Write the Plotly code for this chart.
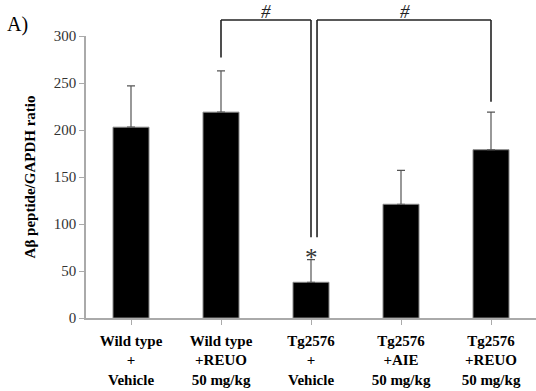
import plotly.graph_objects as go

categories = ["Wild type<br>+<br>Vehicle", "Wild type<br>+REUO<br>50 mg/kg",
              "Tg2576<br>+<br>Vehicle", "Tg2576<br>+AIE<br>50 mg/kg",
              "Tg2576<br>+REUO<br>50 mg/kg"]
values = [203, 219, 38, 121, 179]
errors = [44, 44, 24, 36, 40]
y_ticks = [0, 50, 100, 150, 200, 250, 300]

SERIF = "Liberation Serif, Times New Roman, serif"
N = len(categories)

fig = go.Figure()
fig.add_trace(go.Bar(
    x=list(range(N)), y=values, width=0.4,
    marker=dict(color="black", line=dict(color="#888", width=1)),
    error_y=dict(type="data", array=errors, visible=True, symmetric=False,
                 arrayminus=[0] * N, color="#555", thickness=1.2, width=4),
    hoverinfo="skip",
))

def px(i, d=0.0):
    return (i + 0.5 + d) / N

def py(v):
    return v / 300.0

line = dict(color="#222", width=1.6)
top = 317
shapes = [
    # left bracket
    dict(type="line", xref="paper", yref="paper", x0=px(1), x1=px(1), y0=py(277), y1=py(top), line=line),
    dict(type="line", xref="paper", yref="paper", x0=px(1), x1=px(2), y0=py(top), y1=py(top), line=line),
    dict(type="line", xref="paper", yref="paper", x0=px(2), x1=px(2), y0=py(top), y1=py(86), line=line),
    # right bracket
    dict(type="line", xref="paper", yref="paper", x0=px(2, 0.067), x1=px(2, 0.067), y0=py(86), y1=py(top), line=line),
    dict(type="line", xref="paper", yref="paper", x0=px(2, 0.067), x1=px(4), y0=py(top), y1=py(top), line=line),
    dict(type="line", xref="paper", yref="paper", x0=px(4), x1=px(4), y0=py(top), y1=py(230), line=line),
]

annotations = [
    dict(text="<i>#</i>", xref="paper", yref="paper", x=px(1.5), y=py(339), showarrow=False,
         font=dict(family=SERIF, size=19, color="#222")),
    dict(text="<i>#</i>", xref="paper", yref="paper", x=px(3.12), y=py(339), showarrow=False,
         font=dict(family=SERIF, size=19, color="#222")),
    dict(text="*", xref="paper", yref="paper", x=px(2), y=py(64), showarrow=False,
         yanchor="middle", font=dict(family=SERIF, size=25, color="#333")),
    dict(text="A)", xref="paper", yref="paper", x=-0.18, y=1.04, xanchor="left",
         yanchor="middle", showarrow=False, font=dict(family=SERIF, size=20, color="black")),
]

fig.update_layout(
    width=536, height=391,
    margin=dict(l=86, r=0, t=36, b=73),
    paper_bgcolor="white", plot_bgcolor="white",
    showlegend=False, bargap=0.6,
    shapes=shapes, annotations=annotations,
    xaxis=dict(
        range=[-0.5, N - 0.5], tickmode="array", tickvals=list(range(N)),
        ticktext=["<b>" + c + "</b>" for c in categories],
        showline=True, linecolor="#aaa", linewidth=1.5,
        ticks="outside", tickson="boundaries", ticklen=5, tickcolor="#aaa",
        showgrid=False, zeroline=False, ticklabelstandoff=3,
        tickfont=dict(family=SERIF, size=15, color="black"),
    ),
    yaxis=dict(
        range=[0, 300], tickvals=y_ticks,
        showline=True, linecolor="#aaa", linewidth=1.5,
        ticks="outside", ticklen=5, tickcolor="#aaa",
        showgrid=False, zeroline=False,
        tickfont=dict(family=SERIF, size=15, color="#333"),
        title=dict(text="<b>Aβ peptide/GAPDH ratio</b>", standoff=15,
                   font=dict(family=SERIF, size=15, color="black")),
    ),
)

fig.write_html("out.html", config={"displayModeBar": False},
               post_script="document.body.style.margin='0px';")
